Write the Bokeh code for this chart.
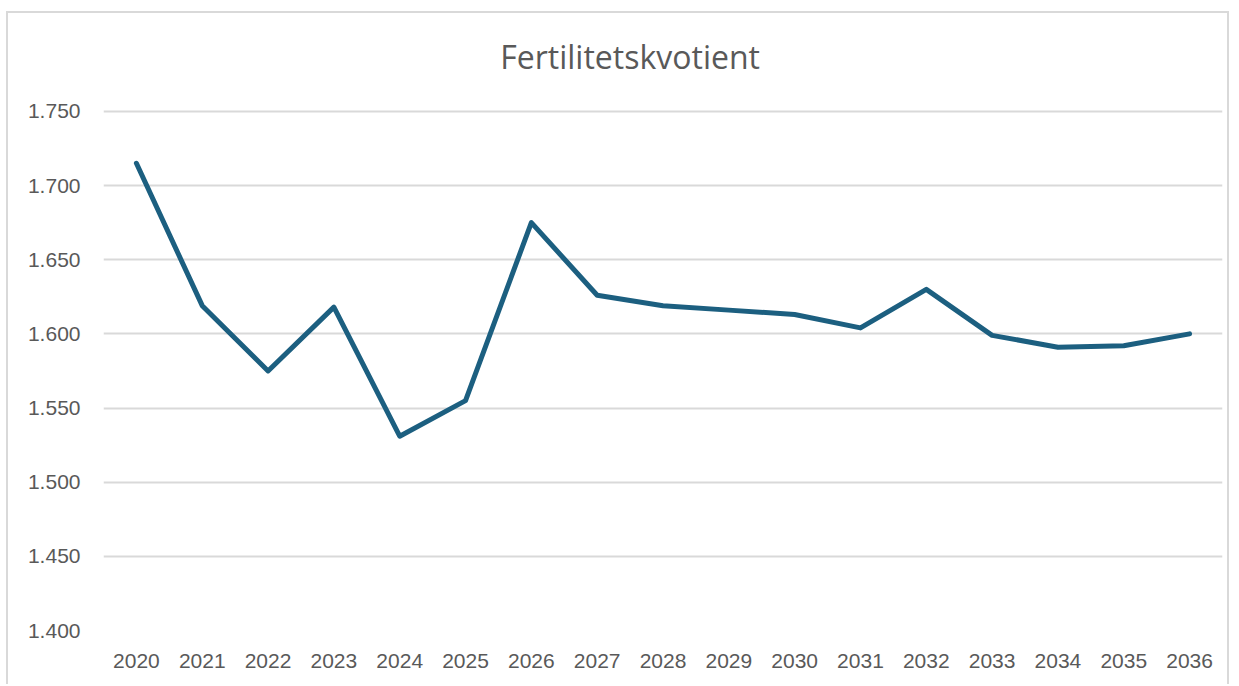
from bokeh.plotting import figure
from bokeh.embed import file_html
from bokeh.resources import INLINE
from bokeh.models import NumeralTickFormatter, FixedTicker, Label

years = [str(y) for y in range(2020, 2037)]
values = [1.715, 1.619, 1.575, 1.618, 1.531, 1.555, 1.675, 1.626, 1.619,
          1.616, 1.613, 1.604, 1.630, 1.599, 1.591, 1.592, 1.600]
y_ticks = [1.40, 1.45, 1.50, 1.55, 1.60, 1.65, 1.70, 1.75]
title_text = "Fertilitetskvotient"

TEXT = "#595959"
GRID = "#d9d9d9"
LINE = "#1c5f80"
FONT = "Liberation Sans"

# the frame extends above the top tick so the title can sit inside it
p = figure(x_range=years, y_range=(1.40, 1.8025), width=1223, height=673,
           output_backend="svg", toolbar_location=None,
           min_border_left=95, min_border_right=9, min_border_top=20, min_border_bottom=56)
p.margin = (11, 0, 0, 6)
p.styles = {"border": "2px solid #d9d9d9", "border-bottom": "none", "box-sizing": "border-box"}

p.line(years, values, line_color=LINE, line_width=5, line_join="round", line_cap="round")

p.add_layout(Label(x=8.0, y=1.787, text=title_text,
                   text_align="center", text_baseline="middle",
                   text_font="Open Sans", text_font_size="32px", text_color=TEXT))

p.outline_line_color = None
p.xgrid.grid_line_color = None
p.ygrid.grid_line_color = GRID
p.ygrid.grid_line_width = 2

p.yaxis.ticker = FixedTicker(ticks=y_ticks)
p.yaxis.formatter = NumeralTickFormatter(format="0.000")
for ax in (p.xaxis, p.yaxis):
    ax.axis_line_color = None
    ax.major_tick_line_color = None
    ax.minor_tick_line_color = None
    ax.major_label_text_font = FONT
    ax.major_label_text_font_size = "21px"
    ax.major_label_text_color = TEXT
p.yaxis.major_label_standoff = 17
p.xaxis.major_label_standoff = 17

open("out.html", "w").write(file_html(p, INLINE))
